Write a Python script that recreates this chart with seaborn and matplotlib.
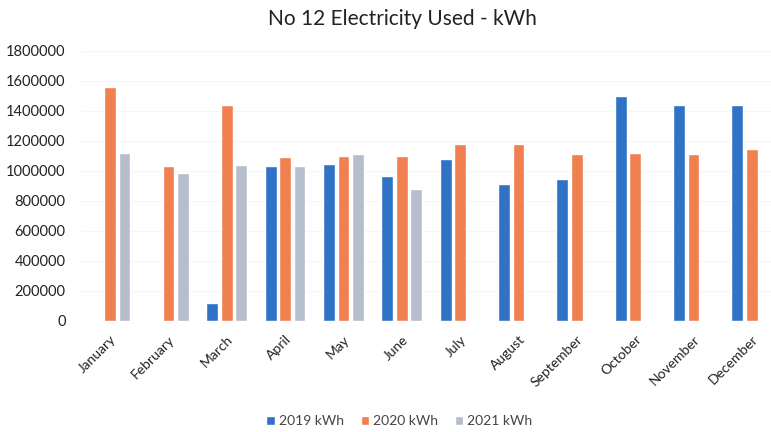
import matplotlib
matplotlib.use("Agg")
import matplotlib.pyplot as plt
import seaborn as sns
import pandas as pd

months = ["January", "February", "March", "April", "May", "June", "July",
          "August", "September", "October", "November", "December"]
kwh_2019 = [0, 0, 120000, 1030000, 1045000, 965000, 1080000, 910000, 945000,
            1500000, 1440000, 1440000]
kwh_2020 = [1560000, 1035000, 1440000, 1095000, 1100000, 1100000, 1180000,
            1180000, 1110000, 1120000, 1110000, 1145000]
kwh_2021 = [1120000, 985000, 1040000, 1035000, 1110000, 880000, 0, 0, 0, 0, 0, 0]
series_names = ["2019 kWh", "2020 kWh", "2021 kWh"]
yticks = [0, 200000, 400000, 600000, 800000, 1000000, 1200000, 1400000, 1600000, 1800000]
title = "No 12 Electricity Used - kWh"

rows = []
for name, vals in zip(series_names, [kwh_2019, kwh_2020, kwh_2021]):
    for m, v in zip(months, vals):
        rows.append({"Month": m, "Series": name, "kWh": v})
df = pd.DataFrame(rows)

sns.set_theme(style="white")
plt.rcParams["font.family"] = ["Lato", "DejaVu Sans"]

fig = plt.figure(figsize=(7.71, 4.32), dpi=100)
ax = fig.add_axes([0.105, 0.257, 0.895, 0.625])
palette = {"2019 kWh": "#2F72C6", "2020 kWh": "#F08050", "2021 kWh": "#B6BDCC"}
sns.barplot(data=df, x="Month", y="kWh", hue="Series", order=months,
            hue_order=series_names, palette=palette, width=0.74, gap=0.18,
            saturation=1, ax=ax, legend=True)

ax.set_xlim(-0.5, 11.33)
ax.set_ylim(0, 1800000)
ax.set_yticks(yticks)
ax.set_yticklabels([str(t) for t in yticks], fontsize=10.5, color="#222222")
ax.yaxis.grid(True, color="#F6F6F6", linewidth=0.8)
ax.set_axisbelow(True)
for s in ax.spines.values():
    s.set_visible(False)
ax.tick_params(axis="both", length=0, pad=4)
ax.tick_params(axis="y", pad=11)
ax.set_xlabel("")
ax.set_ylabel("")
ax.set_xticks(range(len(months)))
ax.set_xticklabels(months, rotation=45, ha="right", rotation_mode="anchor",
                   fontsize=10, color="#222222")
for lab in ax.get_xticklabels():
    lab.set_y(-0.025)

fig.text(0.522, 0.955, title, ha="center", va="center", fontsize=15, color="#222222")

handles, labels = ax.get_legend_handles_labels()
ax.legend(handles, labels, loc="center", ncol=3, frameon=False, fontsize=10,
          handlelength=0.6, handleheight=0.6, handletextpad=0.3, columnspacing=1.2)
leg = ax.get_legend()
leg.set_bbox_to_anchor((0.518, (432 - 421) / 432), transform=fig.transFigure)
for t in leg.get_texts():
    t.set_color("#444444")

fig.savefig("out.png", dpi=100)
